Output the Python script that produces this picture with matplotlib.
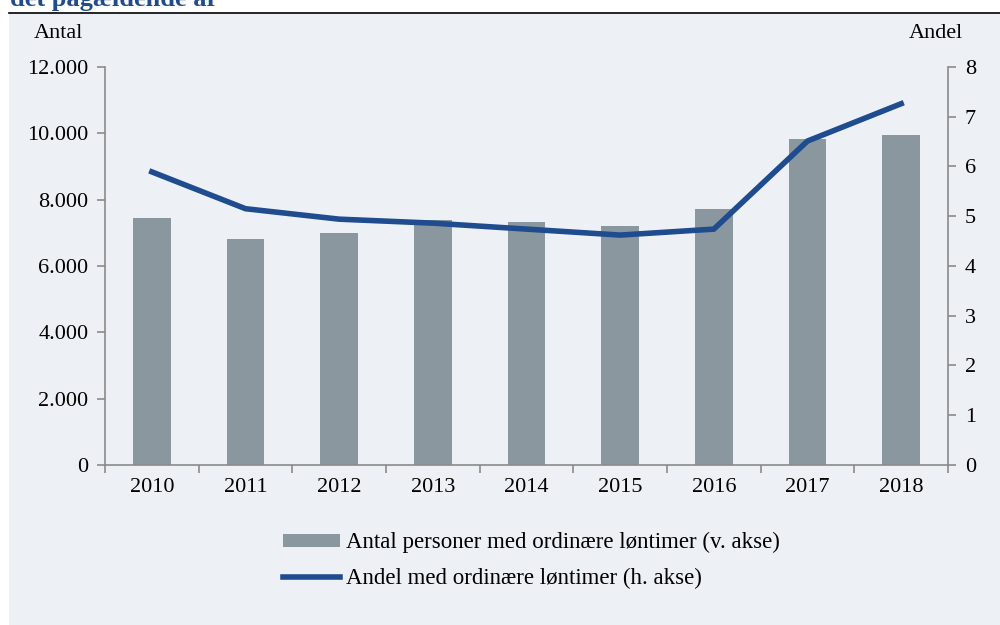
import matplotlib.pyplot as plt
import numpy as np
from matplotlib.patches import Rectangle
from matplotlib.lines import Line2D

years = ["2010", "2011", "2012", "2013", "2014", "2015", "2016", "2017", "2018"]
antal = [7450, 6810, 7000, 7390, 7330, 7210, 7720, 9830, 9950]
andel = [5.89, 5.15, 4.94, 4.86, 4.74, 4.62, 4.74, 6.51, 7.26]
yticks_l = [0, 2000, 4000, 6000, 8000, 10000, 12000]
ylabels_l = ["0", "2.000", "4.000", "6.000", "8.000", "10.000", "12.000"]
yticks_r = [0, 1, 2, 3, 4, 5, 6, 7, 8]

bg = "#edf1f5"
bar_col = "#8b979e"
line_col = "#1f4b8f"
ax_col = "#8a8a8a"
fs = 16

plt.rcParams['font.family'] = ['Liberation Serif', 'DejaVu Serif']

fig = plt.figure(figsize=(10, 6.25), dpi=100)
fig.patch.set_facecolor("white")
fig.patches.append(Rectangle((0.009, 0), 0.991, 1 - 13 / 625, transform=fig.transFigure,
                             facecolor=bg, edgecolor="none", zorder=-10))
fig.add_artist(Line2D([0.009, 1], [1 - 12.5 / 625] * 2, color="black", lw=1.2))
fig.text(0.01, 1 - 6 / 625, "det pågældende år", fontsize=19, fontweight="bold",
         color="#1f4b8f", va="baseline", ha="left")

ax = fig.add_axes([0.105, 0.256, 0.843, 0.637])
ax.set_facecolor(bg)
x = np.arange(len(years))
ax.bar(x, antal, width=0.4, color=bar_col, zorder=2)
ax.set_xlim(-0.5, len(years) - 0.5)
ax.set_ylim(0, 12000)
ax.set_yticks(yticks_l)
ax.set_yticklabels(ylabels_l)
ax.set_xticks(x)
ax.set_xticklabels(years)
ax.set_xticks(np.arange(-0.5, len(years), 1), minor=True)
ax.tick_params(axis="x", which="major", length=0, labelsize=fs, pad=9)
ax.tick_params(axis="x", which="minor", length=6, color=ax_col, width=1.2)
ax.tick_params(axis="y", length=6, color=ax_col, width=1.2, labelsize=fs, pad=6)
for s in ["top", "right"]:
    ax.spines[s].set_visible(False)
for s in ["left", "bottom"]:
    ax.spines[s].set_color(ax_col)
    ax.spines[s].set_linewidth(1.2)

ax2 = ax.twinx()
ax2.plot(x, andel, color=line_col, lw=4, solid_joinstyle="miter", zorder=3)
ax2.set_ylim(0, 8)
ax2.set_yticks(yticks_r)
ax2.tick_params(axis="y", length=6, color=ax_col, width=1.2, labelsize=fs, pad=6)
for s in ["top", "left", "bottom"]:
    ax2.spines[s].set_visible(False)
ax2.spines["right"].set_color(ax_col)
ax2.spines["right"].set_linewidth(1.2)

fig.text(0.058, 1 - 33 / 625, "Antal", fontsize=fs, ha="center", va="center")
fig.text(0.936, 1 - 34 / 625, "Andel", fontsize=fs, ha="center", va="center")

handles = [Rectangle((0, 0), 1, 1, facecolor=bar_col, edgecolor="none"),
           Line2D([0], [0], color=line_col, lw=4)]
labels = ["Antal personer med ordinære løntimer (v. akse)",
          "Andel med ordinære løntimer (h. akse)"]
fig.legend(handles, labels, loc="upper left", bbox_to_anchor=(0.274, 0.163),
           frameon=False, fontsize=16.5, handlelength=2.5, handleheight=0.5,
           handletextpad=0.25, labelspacing=0.62, borderaxespad=0)

fig.savefig("out.png", dpi=100, facecolor=fig.get_facecolor())
